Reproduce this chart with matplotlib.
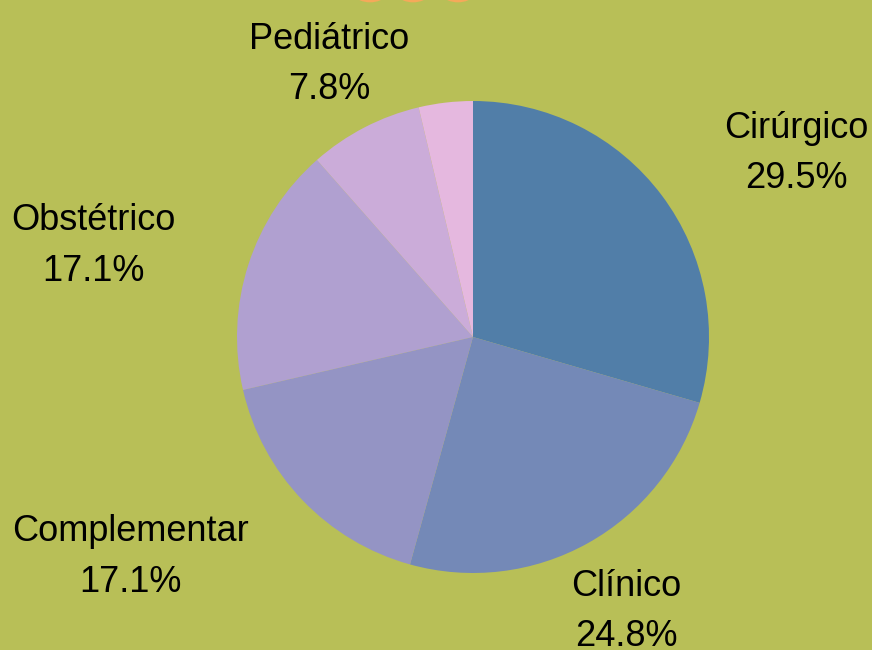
import matplotlib.pyplot as plt
from matplotlib.patches import Circle

# slice data, clockwise from 12 o'clock
categories = ['Cirúrgico', 'Clínico', 'Complementar', 'Obstétrico', 'Pediátrico', '']
shares = [29.5, 24.8, 17.1, 17.1, 7.8, 3.7]
colors = ['#517ea8', '#7489b7', '#9494c4', '#b0a0d0', '#cbacd9', '#e5b8df']

# label centres in pie units (radius = 1)
label_pos = [(1.37, 0.778), (0.65, -1.163), (-1.45, -0.932), (-1.61, 0.385), (-0.61, 1.155), None]

bg = '#b8bf57'
W, H = 872, 650
cx, cy, r = 473, 337, 236  # pie centre / radius in pixels

fig = plt.figure(figsize=(W / 100, H / 100), dpi=100, facecolor=bg)
ax = fig.add_axes([(cx - r) / W, (H - cy - r) / H, 2 * r / W, 2 * r / H])
ax.set_facecolor(bg)

ax.pie(shares, colors=colors, startangle=90, counterclock=False, radius=1,
       wedgeprops=dict(linewidth=0))
ax.set_xlim(-1, 1)
ax.set_ylim(-1, 1)
ax.set_aspect('equal')
ax.axis('off')

for name, val, pos in zip(categories, shares, label_pos):
    if pos is None:
        continue
    ax.text(pos[0], pos[1], name + '\n' + f'{val:.1f}%', ha='center', va='center',
            fontsize=26, family='Liberation Sans', color='black',
            linespacing=1.58, clip_on=False)

# orange dots cut off at the top edge
for x in [-0.436, -0.254, -0.064]:
    ax.add_patch(Circle((x, 1.532), 0.114, color='#f5a95a', clip_on=False, lw=0))

fig.savefig('out.png', dpi=100, facecolor=bg)
